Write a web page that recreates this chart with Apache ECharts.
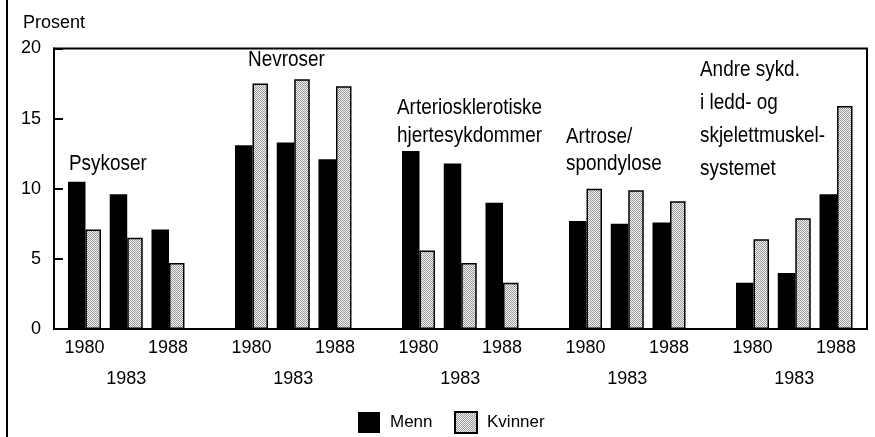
<!DOCTYPE html>
<html>
<head>
<meta charset="utf-8">
<script src="https://cdn.jsdelivr.net/npm/echarts@6/dist/echarts.min.js"></script>
<style>
  html, body { margin: 0; padding: 0; background: #fff; }
  #chart { width: 875px; height: 437px; }
</style>
</head>
<body>
<div id="chart"></div>
<script>
// data (prosent)
const years = ['1980', '1983', '1988'];
const groups = [
  'Psykoser',
  'Nevroser',
  'Arteriosklerotiske\nhjertesykdommer',
  'Artrose/\nspondylose',
  'Andre sykd.\ni ledd- og\nskjelettmuskel-\nsystemet'
];
const menn = [
  [10.5, 9.6, 7.1],
  [13.1, 13.3, 12.1],
  [12.7, 11.8, 9.0],
  [7.7, 7.5, 7.6],
  [3.3, 4.0, 9.6]
];
const kvinner = [
  [7.1, 6.5, 4.7],
  [17.5, 17.8, 17.3],
  [5.6, 4.7, 3.3],
  [10.0, 9.9, 9.1],
  [6.4, 7.9, 15.9]
];
const yTicks = [0, 5, 10, 15, 20];

const FONT = "'Liberation Sans', Arial, sans-serif";

// flatten groups with an empty slot between them
const cats = [], mennData = [], kvinnerData = [];
groups.forEach((g, gi) => {
  years.forEach((y, yi) => {
    cats.push(y);
    mennData.push(menn[gi][yi]);
    kvinnerData.push(kvinner[gi][yi]);
  });
  if (gi < groups.length - 1) {
    cats.push('');
    mennData.push('-');
    kvinnerData.push('-');
  }
});

// stipple pattern for Kvinner
const pat = document.createElement('canvas');
pat.width = 2; pat.height = 2;
const pctx = pat.getContext('2d');
pctx.fillStyle = '#f4f4f4';
pctx.fillRect(0, 0, 2, 2);
pctx.fillStyle = '#999999';
pctx.fillRect(0, 0, 1, 1);
pctx.fillRect(1, 1, 1, 1);

// group captions (placement in the figure); text is condensed like the original
const captionPos = [
  { x: 69, y: 151, lh: 26 },
  { x: 248, y: 47, lh: 26 },
  { x: 397, y: 94, lh: 28 },
  { x: 566, y: 123.5, lh: 27 },
  { x: 700, y: 53.5, lh: 33 }
];

const chart = echarts.init(document.getElementById('chart'));
chart.setOption({
  animation: false,
  textStyle: { fontFamily: FONT },
  grid: [
    { left: 54, right: 8, top: 48.5, bottom: 108, show: true, borderColor: '#000', borderWidth: 2, containLabel: false },
    { left: 63.6, right: 18.1, top: 48.5, bottom: 108, containLabel: false }
  ],
  xAxis: [
    { gridIndex: 0, type: 'value', show: false, min: 0, max: 1 },
    {
      gridIndex: 1, type: 'category', data: cats,
      axisLine: { show: false }, axisTick: { show: false },
      axisLabel: {
        interval: 0, margin: 4, color: '#000', fontSize: 18, lineHeight: 31, fontFamily: FONT,
        formatter: v => (v === '1983' ? '\n1983' : v)
      }
    }
  ],
  yAxis: [
    {
      gridIndex: 0, type: 'value', min: 0, max: 20, interval: 5,
      name: 'Prosent', nameLocation: 'end', nameGap: 16,
      nameTextStyle: { color: '#000', fontSize: 18, fontFamily: FONT },
      axisLine: { show: true, lineStyle: { color: '#000', width: 2 } },
      axisTick: { show: true, inside: true, length: 9, lineStyle: { color: '#000', width: 2 } },
      axisLabel: { margin: 13, color: '#000', fontSize: 18, fontFamily: FONT,
        formatter: v => (yTicks.indexOf(v) >= 0 ? String(v) : '') },
      splitLine: { show: false }
    },
    { gridIndex: 1, type: 'value', min: 0, max: 20, show: false }
  ],
  legend: {
    left: 353, top: 406, itemWidth: 22, itemHeight: 21, itemGap: 21.5, icon: 'rect',
    textStyle: { color: '#000', fontSize: 17, fontFamily: FONT, padding: [0, 0, 0, 5] },
    data: ['Menn', 'Kvinner']
  },
  series: [
    {
      name: 'Menn', type: 'bar', xAxisIndex: 1, yAxisIndex: 1,
      data: mennData, barWidth: 17.5, barGap: '0%',
      itemStyle: { color: '#000' }
    },
    {
      name: 'Kvinner', type: 'bar', xAxisIndex: 1, yAxisIndex: 1,
      data: kvinnerData, barWidth: 15.5, barGap: '0%',
      itemStyle: { color: { image: pat, repeat: 'repeat' }, borderColor: '#000', borderWidth: 1.5 }
    }
  ],
  graphic: [
    { type: 'line', shape: { x1: 7, y1: 0, x2: 7, y2: 437 }, style: { stroke: '#000', lineWidth: 2 } }
  ].concat(groups.map((g, i) => ({
    type: 'text', x: captionPos[i].x, y: captionPos[i].y, scaleX: 0.86,
    style: {
      text: g, fill: '#000', font: '22px ' + FONT, lineHeight: captionPos[i].lh,
      verticalAlign: 'top', align: 'left'
    }
  })))
});
</script>
</body>
</html>
